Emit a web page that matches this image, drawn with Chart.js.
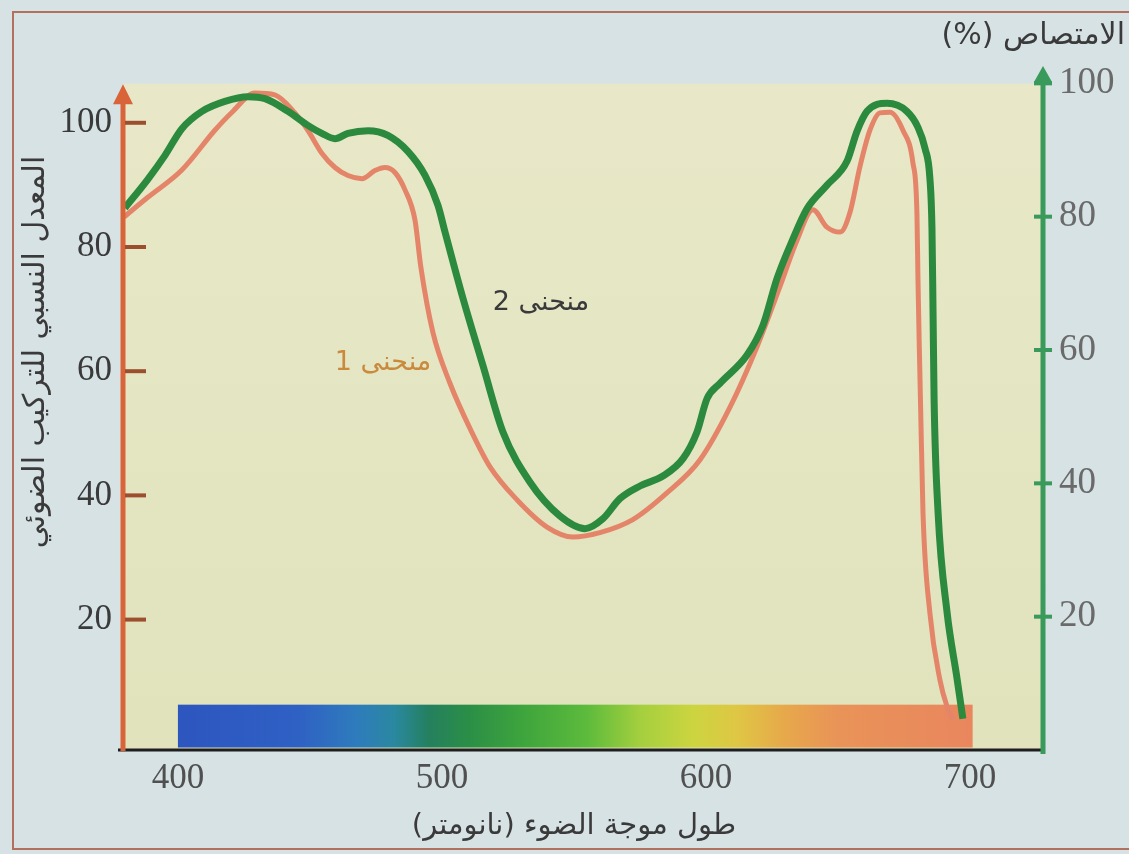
<!DOCTYPE html>
<html lang="ar">
<head>
<meta charset="utf-8">
<title>منحنى 1 ومنحنى 2</title>
<script src="https://cdn.jsdelivr.net/npm/chart.js@4.4.1/dist/chart.umd.min.js"></script>
<style>
  html, body { margin: 0; padding: 0; background: #d7e2e5; }
  #wrap { width: 1129px; height: 854px; position: relative; }
  canvas { display: block; }
</style>
</head>
<body>
<div id="wrap"><canvas id="chart" width="1129" height="854"></canvas></div>
<script>
// Curve 1: relative rate of photosynthesis (left axis), by wavelength in nm
const curve1Wavelengths = [379.5, 388.6, 401.5, 414.0, 420.5, 429.2, 436.7, 444.3, 449.2, 454.5,
  459.5, 464.4, 469.7, 474.6, 478.4, 482.2, 486.0, 489.8, 492.0, 496.6, 503.0, 511.4, 518.2,
  528.4, 539.8, 549.6, 559.8, 572.3, 585.2, 597.7, 609.1, 619.3, 628.0, 634.5, 640.5, 645.8,
  650.8, 654.5, 658.3, 662.1, 665.9, 669.7, 674.6, 678.4, 679.9, 680.3, 680.8, 681.3, 682.2,
  684.8, 688.6, 691.3, 693.6];
const curve1Rates = [84.8, 88.0, 92.4, 98.8, 101.7, 104.8, 104.5, 101.6, 98.8, 95.1,
  92.8, 91.5, 91.0, 92.3, 92.8, 92.0, 89.2, 84.3, 76.8, 66.2, 58.1, 50.1, 44.6,
  39.3, 34.9, 33.3, 34.0, 36.1, 40.4, 45.7, 54.2, 63.9, 73.6, 81.1, 86.0, 83.2,
  82.4, 85.5, 92.9, 98.8, 101.6, 101.7, 98.8, 93.5, 85.5, 74.7, 63.9, 54.2, 37.2,
  21.1, 10.3, 6.0, 3.9];

// Curve 2: absorption in % (right axis), by wavelength in nm
const curve2Wavelengths = [379.9, 388.6, 395.1, 401.5, 409.1, 417.8, 426.5, 433.0, 441.7, 449.2,
  454.5, 459.5, 464.4, 472.0, 479.5, 487.1, 493.6, 498.5, 501.1, 508.0, 515.5, 523.1, 533.3,
  544.7, 554.2, 561.0, 567.4, 575.0, 583.7, 591.3, 596.6, 600.4, 605.3, 615.5, 621.6, 626.9,
  633.0, 638.3, 645.8, 653.4, 657.2, 661.0, 668.6, 676.1, 680.3, 683.0, 684.8, 685.6, 686.0,
  686.4, 687.9, 691.3, 695.1, 697.3];
const curve2Absorption = [81.3, 85.6, 89.2, 93.2, 95.8, 97.3, 98.0, 97.7, 95.8, 93.7,
  92.5, 91.7, 92.5, 92.9, 92.2, 89.8, 86.2, 81.7, 77.8, 67.7, 57.7, 47.7, 40.2,
  35.1, 33.2, 34.7, 37.7, 39.6, 41.1, 43.7, 47.7, 52.7, 55.0, 59.2, 63.7, 70.7,
  76.7, 81.2, 84.7, 88.3, 92.8, 95.8, 97.0, 95.8, 93.4, 90.2, 85.8, 78.2, 65.8,
  52.7, 35.7, 20.7, 10.7, 4.7];

// Axis ticks
const xTickValues = [400, 500, 600, 700];
const leftTickValues = [20, 40, 60, 80, 100];
const rightTickValues = [20, 40, 60, 80, 100];

// Visible light band under the curves (nm) and its colour stops
const spectrumRange = [400, 701];
const spectrumStops = [
  [400, '#2d56bf'], [445, '#2f60c4'], [468, '#2e7cbc'], [482, '#2a88a0'],
  [495, '#24805e'], [510, '#2b8e47'], [530, '#3da43d'], [555, '#5dbb3c'],
  [575, '#a4cf3e'], [595, '#ccd540'], [612, '#dfc644'], [630, '#e7a84b'],
  [650, '#e99358'], [701, '#e9865e']
];

// Text
const xTitle = 'طول موجة الضوء (نانومتر)';
const leftTitle = 'المعدل النسبي للتركيب الضوئي';
const rightTitle = 'الامتصاص (%)';
const curve1Label = 'منحنى 1';
const curve2Label = 'منحنى 2';

const ORANGE = '#e4856a';
const GREEN = '#2b8a3d';
const ARABIC = '"DejaVu Sans", sans-serif';
const DIGITS = '"Liberation Serif", "DejaVu Serif", serif';

const toPoints = (xs, ys) => xs.map((x, i) => ({ x, y: ys[i] }));

const decor = {
  id: 'decor',
  beforeDraw(chart) {
    const { ctx, chartArea: a, scales } = chart;
    ctx.save();
    ctx.fillStyle = '#d7e2e5';
    ctx.fillRect(0, 0, chart.width, chart.height);
    // page frame
    ctx.strokeStyle = '#b3705c';
    ctx.lineWidth = 2;
    ctx.strokeRect(13, 12, chart.width + 20, 837);
    // plot panel
    const top = scales.yL.getPixelForValue(106.3);
    const g = ctx.createLinearGradient(0, top, 0, a.bottom);
    g.addColorStop(0, '#e8e8c8');
    g.addColorStop(1, '#e0e3bc');
    ctx.fillStyle = g;
    ctx.fillRect(a.left, top, a.right - a.left, a.bottom - top);
    ctx.restore();
  },
  beforeDatasetsDraw(chart) {
    const { ctx, scales } = chart;
    const x = scales.x, y = scales.yL;
    const x0 = x.getPixelForValue(spectrumRange[0]);
    const x1 = x.getPixelForValue(spectrumRange[1]);
    const yTop = y.getPixelForValue(6.3);
    const yBot = y.getPixelForValue(-0.6);
    const g = ctx.createLinearGradient(x0, 0, x1, 0);
    spectrumStops.forEach(([nm, c]) => {
      g.addColorStop((nm - spectrumRange[0]) / (spectrumRange[1] - spectrumRange[0]), c);
    });
    ctx.save();
    ctx.fillStyle = g;
    ctx.fillRect(x0, yTop, x1 - x0, yBot - yTop);
    ctx.restore();
  },
  afterDatasetsDraw(chart) {
    const { ctx, chartArea: a, scales } = chart;
    ctx.save();
    ctx.lineCap = 'butt';

    // bottom axis
    ctx.strokeStyle = '#1e1e1e';
    ctx.lineWidth = 3;
    ctx.beginPath();
    ctx.moveTo(118, a.bottom);
    ctx.lineTo(a.right, a.bottom);
    ctx.stroke();

    // left axis with arrow
    const lTip = scales.yL.getPixelForValue(106.2);
    ctx.strokeStyle = '#d9643a';
    ctx.fillStyle = '#d9643a';
    ctx.lineWidth = 5;
    ctx.beginPath();
    ctx.moveTo(a.left, a.bottom + 1);
    ctx.lineTo(a.left, lTip + 14);
    ctx.stroke();
    ctx.beginPath();
    ctx.moveTo(a.left, lTip);
    ctx.lineTo(a.left - 10, lTip + 20);
    ctx.lineTo(a.left + 10, lTip + 20);
    ctx.closePath();
    ctx.fill();
    ctx.strokeStyle = '#9b4f2e';
    ctx.lineWidth = 4;
    leftTickValues.forEach(v => {
      const py = scales.yL.getPixelForValue(v);
      ctx.beginPath();
      ctx.moveTo(a.left + 2, py);
      ctx.lineTo(a.left + 23, py);
      ctx.stroke();
    });

    // right axis with arrow
    const rTip = scales.yR.getPixelForValue(102.6);
    ctx.strokeStyle = '#3a9a5b';
    ctx.fillStyle = '#3a9a5b';
    ctx.lineWidth = 5;
    ctx.beginPath();
    ctx.moveTo(a.right, a.bottom + 4);
    ctx.lineTo(a.right, rTip + 12);
    ctx.stroke();
    ctx.beginPath();
    ctx.moveTo(a.right, rTip);
    ctx.lineTo(a.right - 9, rTip + 16);
    ctx.lineTo(a.right + 9, rTip + 16);
    ctx.closePath();
    ctx.fill();
    ctx.lineWidth = 4;
    rightTickValues.forEach(v => {
      const py = scales.yR.getPixelForValue(v);
      ctx.beginPath();
      ctx.moveTo(a.right - 9, py);
      ctx.lineTo(a.right + 9, py);
      ctx.stroke();
    });

    // titles
    ctx.direction = 'rtl';
    ctx.textBaseline = 'middle';
    ctx.fillStyle = '#3a3a3a';
    ctx.font = '29px ' + ARABIC;
    ctx.textAlign = 'center';
    ctx.fillText(xTitle, 574, 826);
    ctx.font = '30px ' + ARABIC;
    ctx.textAlign = 'right';
    ctx.fillText(rightTitle, 1125, 36);

    ctx.save();
    ctx.translate(36, 352);
    ctx.rotate(-Math.PI / 2);
    ctx.textAlign = 'center';
    ctx.font = '30px ' + ARABIC;
    ctx.fillText(leftTitle, 0, 0);
    ctx.restore();

    // curve labels
    ctx.textAlign = 'center';
    ctx.font = '27px ' + ARABIC;
    ctx.fillStyle = '#3a3a3a';
    ctx.fillText(curve2Label, scales.x.getPixelForValue(537.5), scales.yR.getPixelForValue(67));
    ctx.fillStyle = '#c98a3e';
    ctx.fillText(curve1Label, scales.x.getPixelForValue(477.7), scales.yL.getPixelForValue(61.3));
    ctx.restore();
  }
};

new Chart(document.getElementById('chart'), {
  type: 'line',
  data: {
    datasets: [
      {
        label: curve2Label,
        data: toPoints(curve2Wavelengths, curve2Absorption),
        yAxisID: 'yR',
        borderColor: GREEN,
        borderWidth: 7,
        pointRadius: 0,
        cubicInterpolationMode: 'monotone',
        fill: false
      },
      {
        label: curve1Label,
        data: toPoints(curve1Wavelengths, curve1Rates),
        yAxisID: 'yL',
        borderColor: ORANGE,
        borderWidth: 5,
        pointRadius: 0,
        cubicInterpolationMode: 'monotone',
        fill: false
      }
    ]
  },
  options: {
    responsive: false,
    animation: false,
    events: [],
    layout: { padding: { top: 70, left: 0, right: 0, bottom: 0 } },
    plugins: { legend: { display: false }, tooltip: { enabled: false } },
    scales: {
      x: {
        type: 'linear',
        min: 379.2,
        max: 727.65,
        afterBuildTicks: s => { s.ticks = xTickValues.map(v => ({ value: v })); },
        afterFit: s => { s.height = 104; },
        grid: { display: false, drawTicks: false },
        border: { display: false },
        ticks: {
          padding: 8,
          maxRotation: 0,
          color: '#505050',
          font: { family: DIGITS, size: 35 }
        }
      },
      yL: {
        type: 'linear',
        position: 'left',
        min: -1,
        max: 108.5,
        afterBuildTicks: s => { s.ticks = leftTickValues.map(v => ({ value: v })); },
        afterFit: s => { s.width = 123; },
        grid: { display: false, drawTicks: false },
        border: { display: false },
        ticks: {
          padding: 11,
          color: '#3a3a3a',
          font: { family: DIGITS, size: 35 }
        }
      },
      yR: {
        type: 'linear',
        position: 'right',
        min: 0,
        max: 102,
        afterBuildTicks: s => { s.ticks = rightTickValues.map(v => ({ value: v })); },
        afterFit: s => { s.width = 86; },
        grid: { display: false, drawTicks: false },
        border: { display: false },
        ticks: {
          padding: 16,
          color: '#6a6a6a',
          font: { family: DIGITS, size: 37 }
        }
      }
    }
  },
  plugins: [decor]
});
</script>
</body>
</html>
